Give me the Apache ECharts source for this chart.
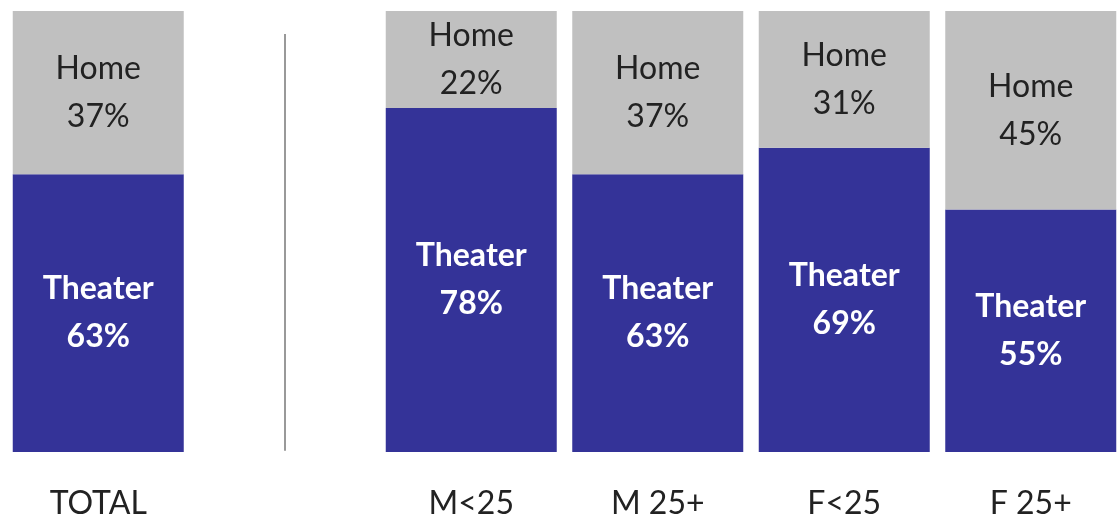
<!DOCTYPE html>
<html>
<head>
<meta charset="utf-8">
<script src="https://cdn.jsdelivr.net/npm/echarts@6/dist/echarts.min.js"></script>
<style>
  html, body { margin: 0; padding: 0; background: #fff; overflow: hidden; }
  #chart { width: 1124px; height: 521px; }
</style>
</head>
<body>
<div id="chart"></div>
<script>
// the empty category holds the divider line between TOTAL and the groups
const categories = ['TOTAL', '', 'M<25', 'M 25+', 'F<25', 'F 25+']
const theater = [63, null, 78, 63, 69, 55]
const home = [37, null, 22, 37, 31, 45]

const font = 'Lato, "Noto Sans", sans-serif'

const chart = echarts.init(document.getElementById('chart'))

chart.setOption({
  animation: false,
  grid: {
    left: 5,
    right: 0,
    top: 11,
    bottom: 69
  },
  xAxis: {
    type: 'category',
    data: categories,
    axisLine: { show: false },
    axisTick: { show: false },
    axisLabel: {
      color: '#222',
      fontSize: 32,
      fontFamily: font,
      margin: 36
    }
  },
  yAxis: {
    type: 'value',
    min: 0,
    max: 100,
    show: false
  },
  series: [
    {
      name: 'Theater',
      type: 'bar',
      stack: 'total',
      data: theater,
      barWidth: 171,
      itemStyle: { color: '#343398' },
      label: {
        show: true,
        position: 'inside',
        formatter: p => 'Theater\n' + p.value + '%',
        color: '#fff',
        fontSize: 32,
        fontWeight: 'bold',
        fontFamily: font,
        lineHeight: 48
      },
      markLine: {
        silent: true,
        symbol: 'none',
        label: { show: false },
        lineStyle: { color: '#999', width: 2, type: 'solid' },
        data: [[{ coord: [1, 0.3] }, { coord: [1, 94.8] }]]
      }
    },
    {
      name: 'Home',
      type: 'bar',
      stack: 'total',
      data: home,
      barWidth: 171,
      itemStyle: { color: '#c0c0c0' },
      label: {
        show: true,
        position: 'inside',
        formatter: p => 'Home\n' + p.value + '%',
        color: '#222',
        fontSize: 32,
        fontFamily: font,
        lineHeight: 48
      }
    }
  ]
})
</script>
</body>
</html>
